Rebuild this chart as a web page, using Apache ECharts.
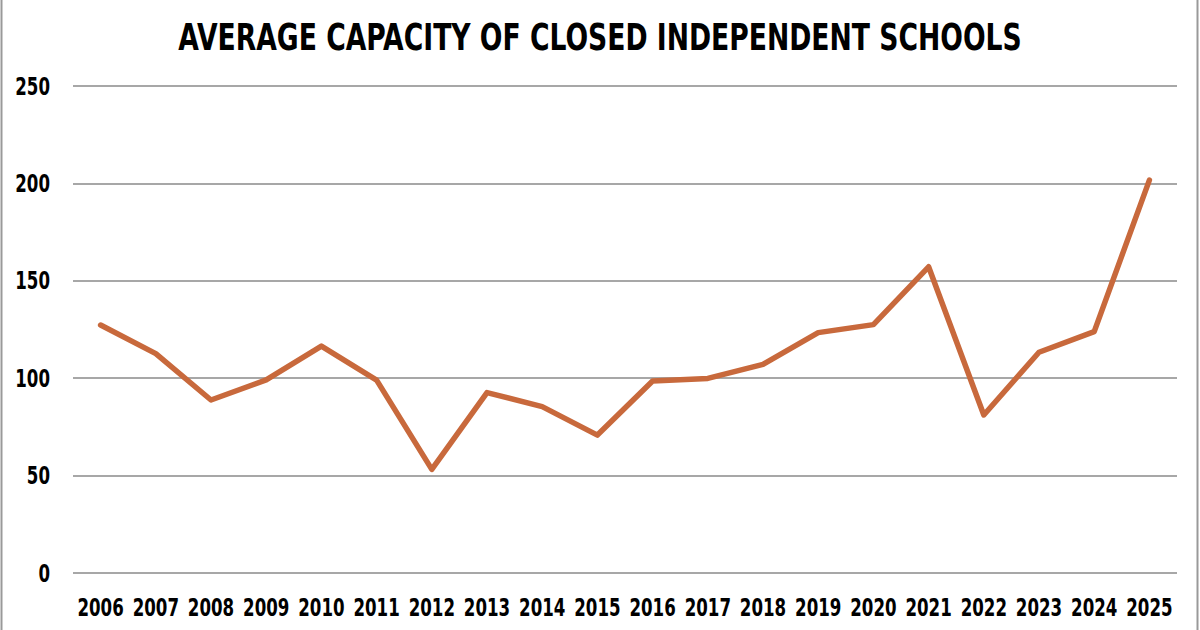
<!DOCTYPE html>
<html>
<head>
<meta charset="utf-8">
<script src="https://cdn.jsdelivr.net/npm/echarts@6/dist/echarts.min.js"></script>
<style>
html,body{margin:0;padding:0;background:#fff;}
#c{width:1200px;height:630px;}
</style>
</head>
<body>
<div id="c"></div>
<script>
const titleText = 'AVERAGE CAPACITY OF CLOSED INDEPENDENT SCHOOLS';
const years = ['2006','2007','2008','2009','2010','2011','2012','2013','2014','2015','2016','2017','2018','2019','2020','2021','2022','2023','2024','2025'];
const capacity = [127.3, 112.6, 88.8, 99.1, 116.5, 99.0, 53.2, 92.6, 85.4, 70.8, 98.6, 99.9, 107.1, 123.4, 127.5, 157.2, 81.1, 113.3, 123.9, 201.7];
const yTicks = [0, 50, 100, 150, 200, 250];

const fontFam = '"DejaVu Sans Condensed","DejaVu Sans",sans-serif';
const chart = echarts.init(document.getElementById('c'), null, {renderer:'svg'});

// squeeze text horizontally around its anchor to mimic a narrow bold typeface
function squeeze(){
  document.querySelectorAll('#c svg text').forEach(function(t){
    if (t.getAttribute('data-sq')) return;
    const x = parseFloat(t.getAttribute('x') || 0), y = parseFloat(t.getAttribute('y') || 0);
    const s = t.textContent.length > 10 ? 0.80 : 0.74;
    const tr = t.getAttribute('transform') || '';
    t.setAttribute('transform', tr + ' translate(' + x + ' ' + y + ') scale(' + s + ' 1) translate(' + (-x) + ' ' + (-y) + ')');
    t.setAttribute('data-sq', '1');
  });
}
chart.on('finished', squeeze);

chart.setOption({
  backgroundColor: '#ffffff',
  animation: false,
  title: {
    text: titleText,
    left: 'center',
    top: 14,
    textStyle: {fontFamily: fontFam, fontWeight: 'bold', fontSize: 37, color: '#000'}
  },
  grid: {left: 73, right: 23, top: 86, bottom: 57, containLabel: false, outerBoundsMode: 'none'},
  xAxis: {
    type: 'category',
    data: years,
    boundaryGap: true,
    axisLine: {show: false},
    axisTick: {show: false},
    axisLabel: {fontFamily: fontFam, fontWeight: 'bold', fontSize: 25, color: '#000', margin: 22, interval: 0, hideOverlap: false}
  },
  yAxis: {
    type: 'value',
    min: yTicks[0],
    max: yTicks[yTicks.length-1],
    interval: 50,
    axisLine: {show: false},
    axisTick: {show: false},
    axisLabel: {fontFamily: fontFam, fontWeight: 'bold', fontSize: 25, color: '#000', margin: 23},
    splitLine: {lineStyle: {color: '#8a8a8a', width: 1.5}}
  },
  graphic: [
    {type: 'line', shape: {x1: 1.5, y1: 0, x2: 1.5, y2: 630}, style: {stroke: '#999', lineWidth: 2}},
    {type: 'line', shape: {x1: 1197.5, y1: 0, x2: 1197.5, y2: 630}, style: {stroke: '#999', lineWidth: 2}}
  ],
  series: [{
    type: 'line',
    data: capacity,
    symbol: 'none',
    smooth: false,
    lineStyle: {color: '#C8693C', width: 5.5, cap: 'round', join: 'round'}
  }]
});
squeeze();
</script>
</body>
</html>
